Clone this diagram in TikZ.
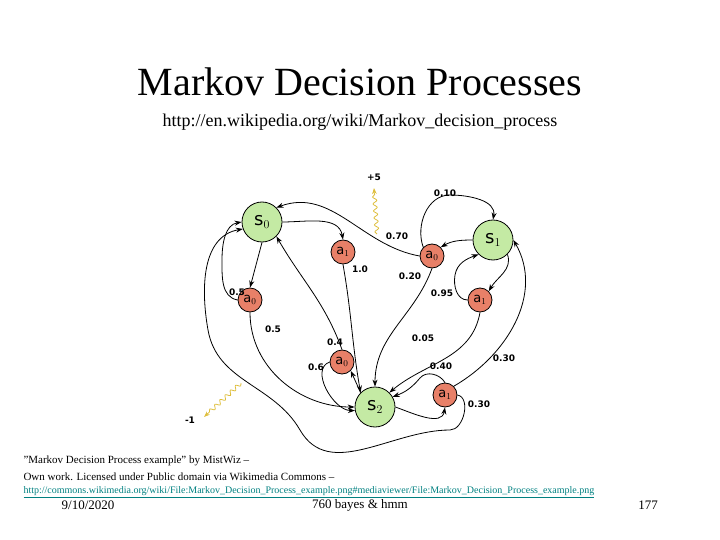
\documentclass[tikz,border=0pt]{standalone}
\usepackage{fontspec}
\setmainfont{Liberation Serif}
\newfontfamily\dv{DejaVu Sans}
\usetikzlibrary{arrows.meta,decorations.pathmorphing}
\definecolor{sg}{RGB}{196,234,164}
\definecolor{ao}{RGB}{232,128,104}
\definecolor{rw}{RGB}{222,190,60}
\definecolor{lk}{RGB}{0,128,128}
\begin{document}
\begin{tikzpicture}[x=1pt,y=-1pt,
  st/.style={circle,draw,thick,fill=sg,minimum size=40pt,inner sep=0pt,font=\dv\fontsize{18}{18}\selectfont},
  ac/.style={circle,draw,thick,fill=ao,minimum size=24pt,inner sep=0pt,font=\dv\fontsize{13}{13}\selectfont},
  ed/.style={-{Stealth[length=7pt,width=5pt]},thick},
  lb/.style={font=\dv\bfseries\fontsize{9}{9}\selectfont},
  rew/.style={rw,thick,decorate,decoration={snake,amplitude=2pt,segment length=7pt,post length=6pt},-{Stealth[length=6pt]}}]
\useasboundingbox (0,0) rectangle (720,540);
\node at (360,82) {\fontsize{40}{40}\selectfont Markov Decision Processes};
\node at (360,122) {\fontsize{18}{18}\selectfont http://en.wikipedia.org/wiki/Markov\_decision\_process};
\node[st] (S0) at (262,222) {s$_0$};
\node[st] (S1) at (493,240) {s$_1$};
\node[st] (S2) at (375,407) {s$_2$};
\node[ac] (A1t) at (343,252) {a$_1$};
\node[ac] (A0r) at (432,256) {a$_0$};
\node[ac] (A0l) at (250,300) {a$_0$};
\node[ac] (A1r) at (480,300) {a$_1$};
\node[ac] (A0b) at (342,362) {a$_0$};
\node[ac] (A1b) at (445,395) {a$_1$};
% S0 block
\draw[ed] (S0.east) to[out=0,in=100] (A1t.north);
\draw[ed] (A1t.south) to[out=-80,in=100] (S2.north west);
\draw[ed] (S0.south) -- (A0l.north);
\draw[ed] (A0l.west) to[out=170,in=-90] (222,260) to[out=90,in=190] (S0.west);
\draw[ed] (A0l.south) to[out=-90,in=180] (S2.west);
\draw[ed] (A0b.north) to[out=110,in=-60] (S0.south east);
\draw[ed] (A0b.west) to[out=200,in=180] (S2.190);
\draw[ed] (S2.north west) -- (A0b.south east);
% S1 block
\draw[ed] (A0r.west) to[out=170,in=20] (S0.north east);
\draw[ed] (A0r.south) to[out=-110,in=90] (S2.north);
\draw[ed] (A0r.north west) to[out=110,in=180] (450,195) to[out=0,in=80] (S1.north);
\draw[ed] (S1.west) to[out=180,in=30] (A0r.north east);
\draw[ed] (S1.south east) to[out=-70,in=60] (A1r.north east);
\draw[ed] (A1r.west) to[out=180,in=-100] (455,275) to[out=80,in=200] (S1.south west);
\draw[ed] (A1r.south) to[out=-100,in=40] (S2.north east);
% S2 -> a1 bottom
\draw[ed] (S2.east) to[out=-20,in=-100] (A1b.south);
\draw[ed] (A1b.north east) to[out=30,in=-60] (S1.east);
\draw[ed] (A1b.north) to[out=120,in=50] (420,378) to[out=230,in=20] (S2.30);
\draw[ed] (A1b.east) to[out=-10,in=0] (450,430) to[out=180,in=-60] (300,430) to[out=120,in=-80] (208,330) to[out=100,in=190] (S0.200);
% labels
\node[lb] at (360,269) {1.0};
\node[lb] at (237,292) {0.5};
\node[lb] at (273,329) {0.5};
\node[lb] at (335,342) {0.4};
\node[lb] at (316,367) {0.6};
\node[lb] at (397,236) {0.70};
\node[lb] at (410,276) {0.20};
\node[lb] at (445,193) {0.10};
\node[lb] at (442,293) {0.95};
\node[lb] at (423,338) {0.05};
\node[lb] at (504,358) {0.30};
\node[lb] at (441,366) {0.40};
\node[lb] at (479,404) {0.30};
% rewards
\coordinate (r5a) at (377,234);
\coordinate (r5b) at (374,188);
\draw[rew] (r5a) -- (r5b);
\node[lb] at (374,177) {+5};
\coordinate (r1a) at (241,383);
\coordinate (r1b) at (204,417);
\draw[rew] (r1a) -- (r1b);
\node[lb] at (190,420) {-1};
% footer
\node[anchor=west,font=\fontsize{11}{11}\selectfont] at (20,461) {"Markov Decision Process example" by MistWiz –};
\node[anchor=west,font=\fontsize{11}{11}\selectfont] at (20,477) {Own work. Licensed under Public domain via Wikimedia Commons –};
\node[anchor=west,font=\fontsize{10}{10}\selectfont,lk] at (20,492) {\underline{http://commons.wikimedia.org/wiki/File:Markov\_Decision\_Process\_example.png\#mediaviewer/File:Markov\_Decision\_Process\_example.png}};
\node[font=\fontsize{13}{13}\selectfont] at (88,505) {9/10/2020};
\node[font=\fontsize{13}{13}\selectfont] at (360,505) {760 bayes \& hmm};
\node[font=\fontsize{13}{13}\selectfont] at (648,505) {177};
\end{tikzpicture}
\end{document}
